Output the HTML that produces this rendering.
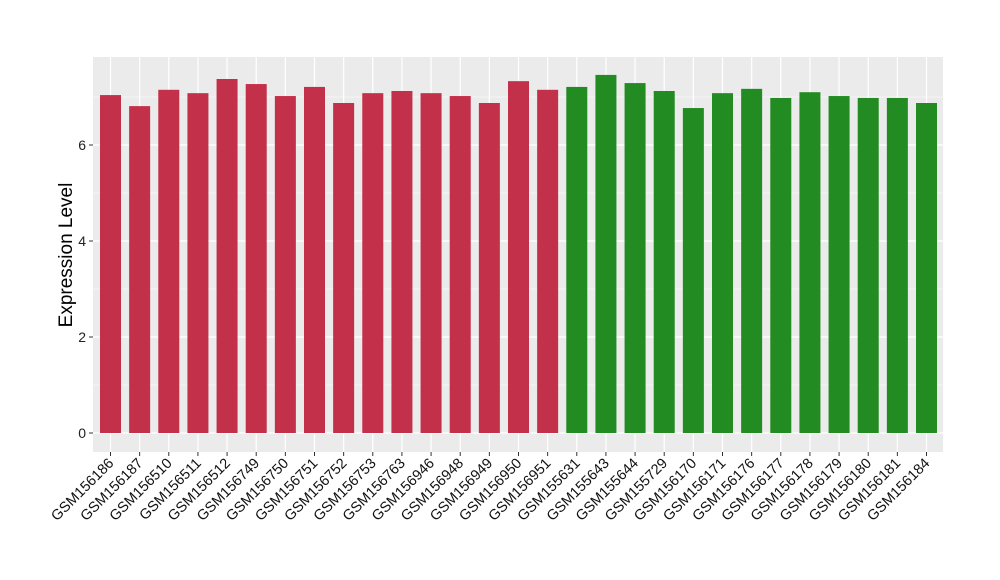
<!DOCTYPE html>
<html><head><meta charset="utf-8"><style>body{margin:0;background:#fff}svg{display:block}</style></head>
<body>
<svg id="chart" width="1000" height="580" xmlns="http://www.w3.org/2000/svg" font-family="Liberation Sans, sans-serif"></svg>
<script>
const categories=["GSM156186","GSM156187","GSM156510","GSM156511","GSM156512","GSM156749","GSM156750","GSM156751","GSM156752","GSM156753","GSM156763","GSM156946","GSM156948","GSM156949","GSM156950","GSM156951","GSM155631","GSM155643","GSM155644","GSM155729","GSM156170","GSM156171","GSM156176","GSM156177","GSM156178","GSM156179","GSM156180","GSM156181","GSM156184"];
const values=[7.04,6.81,7.15,7.08,7.375,7.27,7.02,7.21,6.875,7.08,7.125,7.08,7.02,6.875,7.33,7.15,7.21,7.46,7.29,7.125,6.77,7.08,7.17,6.98,7.10,7.02,6.98,6.98,6.875];
const groups=[0,0,0,0,0,0,0,0,0,0,0,0,0,0,0,0,1,1,1,1,1,1,1,1,1,1,1,1,1];
const yTicks=[0,2,4,6];
const colors=["#c33049","#228b22"];
const svg=document.getElementById('chart');const NS="http://www.w3.org/2000/svg";
const L=93,R=943,T=57,B=452;
const y=v=>433-v*48;
const step=(926-110)/(categories.length-1);
const x=i=>110.5+step*i;
function mk(t,a,p){const e=document.createElementNS(NS,t);for(const k in a)e.setAttribute(k,a[k]);(p||svg).appendChild(e);return e;}
const bg=mk('rect',{x:L,y:T,width:R-L,height:B-T,fill:'#ebebeb'});


for(let v=1;v<8;v+=2){const g=mk('line',{x1:L,x2:R,y1:y(v),y2:y(v),stroke:'#fff','stroke-width':0.6});

}
yTicks.forEach(v=>{const g=mk('line',{x1:L,x2:R,y1:y(v),y2:y(v),stroke:'#fff','stroke-width':1.2});


const tk=mk('line',{x1:L-4,x2:L,y1:y(v),y2:y(v),stroke:'#333'});


const t=mk('text',{x:L-7,y:y(v)+5,'text-anchor':'end','font-size':14,fill:'#222'});t.textContent=v;

});
categories.forEach((c,i)=>{const g=mk('line',{x1:x(i),x2:x(i),y1:T,y2:B,stroke:'#fff','stroke-width':1.2});

});
categories.forEach((c,i)=>{const b=mk('rect',{x:x(i)-10.5,y:y(values[i]),width:21,height:y(0)-y(values[i]),fill:colors[groups[i]]});


const tk=mk('line',{x1:x(i),x2:x(i),y1:B,y2:B+4,stroke:'#333'});


const t=mk('text',{x:x(i)+4,y:B+12,'text-anchor':'end','font-size':14.5,fill:'#111',transform:`rotate(-45 ${x(i)+4} ${B+12})`});t.textContent=c;

});
const yt=mk('text',{x:72,y:255,'text-anchor':'middle','font-size':19,fill:'#000',transform:'rotate(-90 72 255)'});yt.textContent='Expression Level';


</script>
</body></html>
